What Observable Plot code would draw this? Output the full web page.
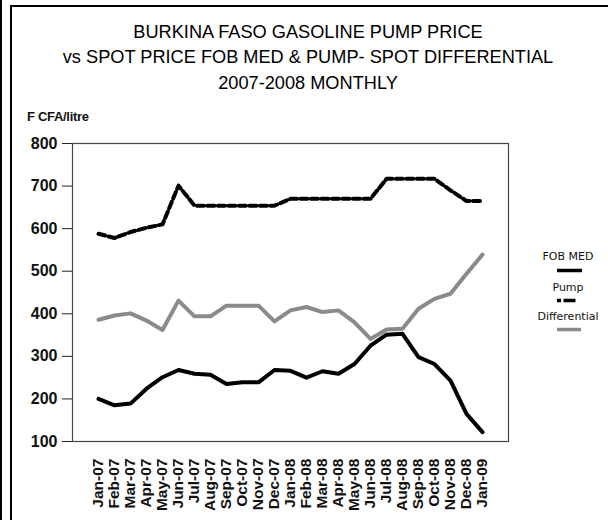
<!DOCTYPE html>
<html>
<head>
<meta charset="utf-8">
<script src="https://cdn.jsdelivr.net/npm/d3@7"></script>
<script src="https://cdn.jsdelivr.net/npm/@observablehq/plot@0.6"></script>
<style>
  html, body { margin: 0; padding: 0; background: #fff; }
  #wrap { position: relative; width: 608px; height: 520px; overflow: hidden; background: #fff; font-family: "Liberation Sans", Arial, sans-serif; }
  .abs { position: absolute; }
  .title { position: absolute; left: 8px; width: 600px; text-align: center; font-size: 18.2px; color: #000; white-space: nowrap; line-height: 1; }
  .leg { position: absolute; left: 530px; width: 76px; text-align: center; font-family: "DejaVu Sans", sans-serif; font-size: 11px; color: #111; line-height: 1; }
  #plot { position: absolute; left: 0; top: 0; }
</style>
</head>
<body>
<div id="wrap">
  <div class="abs" style="left:0;top:0;width:2px;height:520px;background:#000"></div>
  <div class="abs" style="left:10px;top:5px;width:600px;height:520px;border-left:2px solid #000;border-top:2px solid #000"></div>
  <div class="title" style="top:23px">BURKINA FASO GASOLINE PUMP PRICE</div>
  <div class="title" style="top:48px">vs SPOT PRICE FOB MED &amp; PUMP- SPOT DIFFERENTIAL</div>
  <div class="title" style="top:74px">2007-2008 MONTHLY</div>
  <div class="abs" style="left:27px;top:110px;font-size:13px;font-weight:bold;color:#111;line-height:1;letter-spacing:-0.3px">F CFA/litre</div>
  <div id="plot"></div>
  <div class="leg" style="top:251px">FOB MED</div>
  <div class="leg" style="top:282px">Pump</div>
  <div class="leg" style="top:311px">Differential</div>
  <svg class="abs" style="left:0;top:0" width="608" height="520" id="legsvg"></svg>
</div>
<script>
const months = ["Jan-07","Feb-07","Mar-07","Apr-07","May-07","Jun-07","Jul-07","Aug-07","Sep-07","Oct-07","Nov-07","Dec-07",
                "Jan-08","Feb-08","Mar-08","Apr-08","May-08","Jun-08","Jul-08","Aug-08","Sep-08","Oct-08","Nov-08","Dec-08","Jan-09"];
const fobMed = [200,185,189,224,251,268,259,257,235,239,239,268,266,250,265,259,282,325,351,353,298,282,243,165,122];
const pump = [588,578,592,602,610,701,654,654,654,654,654,654,670,670,670,670,670,670,717,717,717,717,690,665,665];
const differential = [386,396,401,384,362,431,394,394,419,419,419,382,408,416,404,408,380,341,363,365,412,435,447,494,539];
const yTicks = [100,200,300,400,500,600,700,800];

const rows = months.map((m, i) => ({month: m, fob: fobMed[i], pump: pump[i], diff: differential[i]}));

const chart = Plot.plot({
  width: 608,
  height: 520,
  marginLeft: 72,
  marginRight: 100,
  marginTop: 143,
  marginBottom: 79,
  style: {background: "transparent", fontFamily: "Liberation Sans, Arial, sans-serif", color: "#111"},
  x: {type: "point", domain: months, padding: 1.5},
  y: {domain: [100, 800]},
  marks: [
    Plot.frame({stroke: "#444", strokeWidth: 1.2}),
    Plot.ruleX([0], {frameAnchor: "left", stroke: "#000", strokeWidth: 1.5}),
    Plot.axisY({ticks: yTicks, tickSize: 10, tickPadding: 5, fontSize: 16, fontWeight: "bold", label: null, stroke: "#222"}),
    Plot.axisX({tickSize: 0, tickRotate: -90, tickPadding: 17, fontSize: 15.5, fontWeight: "bold", label: null}),
    Plot.line(rows, {x: "month", y: "diff", stroke: "#8a8a8a", strokeWidth: 4}),
    Plot.line(rows, {x: "month", y: "fob", stroke: "#000", strokeWidth: 4}),
    Plot.line(rows, {x: "month", y: "pump", stroke: "#000", strokeWidth: 4, strokeDasharray: "7,3.5"})
  ]
});
document.getElementById("plot").appendChild(chart);

// legend samples
const leg = d3.select("#legsvg");
leg.append("line").attr("x1", 557).attr("x2", 582).attr("y1", 270.5).attr("y2", 270.5).attr("stroke", "#000").attr("stroke-width", 3.5);
leg.append("line").attr("x1", 557).attr("x2", 578).attr("y1", 300.5).attr("y2", 300.5).attr("stroke", "#000").attr("stroke-width", 3.5).attr("stroke-dasharray", "4,2.5,12");
leg.append("line").attr("x1", 557).attr("x2", 581).attr("y1", 329.5).attr("y2", 329.5).attr("stroke", "#8a8a8a").attr("stroke-width", 3.5);
</script>
</body>
</html>
